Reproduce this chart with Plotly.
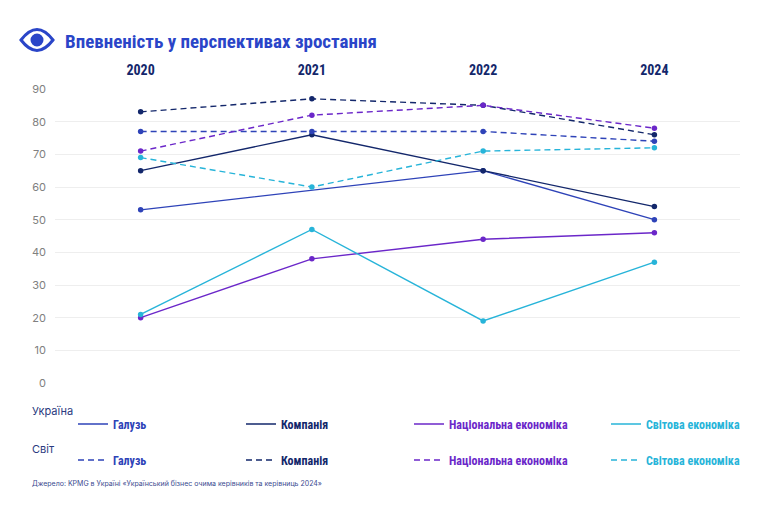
import plotly.graph_objects as go

years = ["2020", "2021", "2022", "2024"]
series_names = ["Галузь", "Компанія", "Національна економіка", "Світова економіка"]
ukraine_galuz = [53, None, 65, 50]
ukraine_kompaniya = [65, 76, 65, 54]
ukraine_nats = [20, 38, 44, 46]
ukraine_svit = [21, 47, 19, 37]
world_galuz = [77, 77, 77, 74]
world_kompaniya = [83, 87, 85, 76]
world_nats = [71, 82, 85, 78]
world_svit = [69, 60, 71, 72]
y_ticks = [0, 10, 20, 30, 40, 50, 60, 70, 80, 90]

colors = ["#2e43b8", "#13276b", "#6b27c9", "#27b4d9"]
ukraine = [ukraine_galuz, ukraine_kompaniya, ukraine_nats, ukraine_svit]
world = [world_galuz, world_kompaniya, world_nats, world_svit]

COND = "Roboto Condensed, Liberation Sans Narrow, Roboto, sans-serif"
REG = "Inter, Liberation Sans, Arial, sans-serif"

OFF = 8  # page body margin
W, H = 764 - OFF, 505 - OFF
# plot area in page pixels
PL, PR, PT, PB = 55, 740, 89, 383
L, T = PL - OFF, PT - OFF
R, B = W - (PR - OFF), H - (PB - OFF)
pw, ph = PR - PL, PB - PT

def px(x):
    return (x - PL) / pw

def py(y):
    return (PB - y) / ph

fig = go.Figure()

legend_cols_text = [113, 281, 449, 646]
legend_rows = [424, 460]
layout_legends = {}
idx = 0
for row, (group, dash) in enumerate([(ukraine, "solid"), (world, "6px,4px")]):
    for i, vals in enumerate(group):
        idx += 1
        lname = "legend" if idx == 1 else f"legend{idx}"
        fig.add_trace(go.Scatter(
            x=years, y=vals, mode="lines", name=series_names[i],
            line=dict(color=colors[i], width=1.4, dash=dash),
            connectgaps=True, legend=lname, hoverinfo="skip",
        ))
        fig.add_trace(go.Scatter(
            x=years, y=vals, mode="markers", showlegend=False,
            marker=dict(color=colors[i], size=5.5),
        ))
        layout_legends[lname] = dict(
            x=px(legend_cols_text[i] - 40), y=py(legend_rows[row]),
            xanchor="left", yanchor="middle", orientation="h",
            bgcolor="rgba(0,0,0,0)", itemwidth=30,
            font=dict(family=COND, size=12, color=colors[i], weight="bold"),
        )

fig.update_layout(**layout_legends)

fig.update_layout(
    width=W, height=H,
    margin=dict(l=L, r=R, t=T, b=B, autoexpand=False),
    paper_bgcolor="white", plot_bgcolor="white",
    xaxis=dict(type="category", categoryorder="array", categoryarray=years,
               side="top", range=[-0.5, 3.5], showgrid=False, showline=False,
               ticks="", zeroline=False, ticklabelstandoff=10,
               tickfont=dict(family=COND, size=14, color="#13276b", weight="bold")),
    yaxis=dict(range=[0, 90], tickvals=y_ticks, showgrid=True, gridcolor="#eeeeee",
               zeroline=False, showline=False, ticklabelstandoff=8,
               tickfont=dict(family=REG, size=11, color="#808080")),
    showlegend=True,
)

# title and eye icon
fig.add_annotation(x=px(63), y=py(41), xref="paper", yref="paper",
                   text="<b>Впевненість у перспективах зростання</b>",
                   showarrow=False, xanchor="left", yanchor="middle",
                   font=dict(family=COND, size=19, color="#2a45c8"))
ex, ey = px(37), py(40)
fig.add_shape(type="path", xref="paper", yref="paper", xsizemode="pixel", ysizemode="pixel",
              xanchor=ex, yanchor=ey,
              path="M-16,0 Q0,21 16,0 Q0,-21 -16,0 Z",
              line=dict(color="#2a45c8", width=3), fillcolor="white")
fig.add_shape(type="circle", xref="paper", yref="paper", xsizemode="pixel", ysizemode="pixel",
              xanchor=ex, yanchor=ey, x0=-6.5, x1=6.5, y0=-6.5, y1=6.5,
              line=dict(color="#2a45c8", width=0), fillcolor="#2a45c8")

# row labels
for txt, yy in [("Україна", 411), ("Світ", 449)]:
    fig.add_annotation(x=px(30), y=py(yy), xref="paper", yref="paper", text=txt,
                       showarrow=False, xanchor="left", yanchor="middle",
                       font=dict(family=REG, size=11, color="#2a3a80"))

fig.add_annotation(x=px(30), y=py(483), xref="paper", yref="paper",
                   text="Джерело: KPMG в Україні «Український бізнес очима керівників та керівниць 2024»",
                   showarrow=False, xanchor="left", yanchor="middle",
                   font=dict(family=REG, size=7, color="#3a4a90"))

fig.write_html("out.html")
